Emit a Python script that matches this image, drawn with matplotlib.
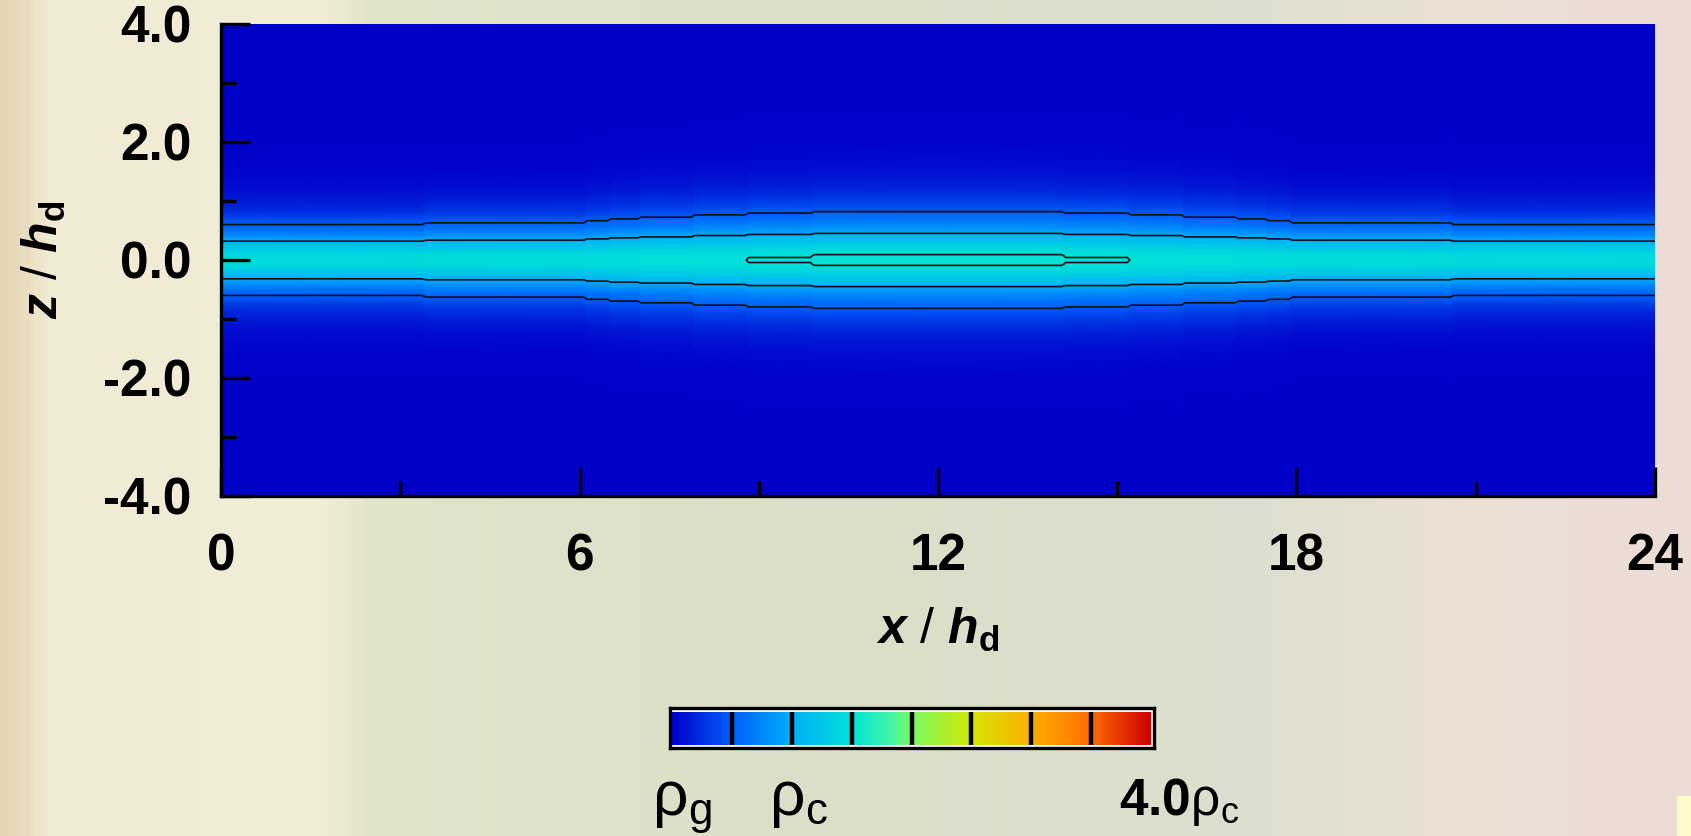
import numpy as np
import matplotlib
matplotlib.use("Agg")
import matplotlib.pyplot as plt
from matplotlib.colors import LinearSegmentedColormap, Normalize
from matplotlib.patches import Rectangle

plt.rcParams['font.family'] = 'Liberation Sans'
plt.rcParams['font.weight'] = 'bold'
plt.rcParams['axes.unicode_minus'] = False
plt.rcParams['mathtext.fontset'] = 'custom'
plt.rcParams['mathtext.it'] = 'Liberation Sans:italic:bold'
plt.rcParams['mathtext.rm'] = 'Liberation Sans:bold'
plt.rcParams['mathtext.sf'] = 'Liberation Sans:weight=normal'

# x segments (in h_d) over which the vertical profile stays the same
seg_edges = [0, 3.4, 6.1, 6.5, 7.0, 7.9, 8.8, 9.9, 14.1, 15.2, 16.1, 17.0, 17.5, 17.9, 20.6, 24]
seg_thick = [1.0, 1.044, 1.10, 1.145, 1.19, 1.25, 1.29, 1.32, 1.29, 1.25, 1.19, 1.145, 1.10, 1.044, 1.0]
seg_mid = [1.45, 1.46, 1.47, 1.48, 1.485, 1.495, 1.51, 1.53, 1.51, 1.495, 1.485, 1.48, 1.47, 1.46, 1.45]

# normalised vertical density profile (upper half, mirrored below)
zeta = [0, 0.05, 0.1, 0.2, 0.3, 0.4, 0.5, 0.6, 0.7, 0.8, 0.9, 1.0, 1.2, 1.5, 2.0, 4.0]
prof = [1.0, 0.99, 0.965, 0.86, 0.72, 0.56, 0.44, 0.345, 0.26, 0.19, 0.14, 0.10, 0.05, 0.02, 0.005, 0.0]

levels = [0.5, 1.0, 1.5]
cbar_ticks = [0.5, 1.0, 1.5, 2.0, 2.5, 3.0, 3.5]
xticks = [0, 6, 12, 18, 24]
xminor = [3, 9, 15, 21]
yticks = [-4, -2, 0, 2, 4]
yminor = [-3, -1, 1, 3]
ytick_labels = ['-4.0', '-2.0', '0.0', '2.0', '4.0']

# jet-like colour scale
cmap_pos = [0.0, 0.125, 0.25, 0.375, 0.45, 0.5, 0.625, 0.75, 0.875, 1.0]
cmap_col = ['#0000c8', '#005ffa', '#00affa', '#00e1d7', '#3cf5aa', '#78fa64',
            '#d2e600', '#ffaf00', '#ff6e00', '#cd0000']
cmap = LinearSegmentedColormap.from_list('rho', list(zip(cmap_pos, cmap_col)))
norm = Normalize(0, 4.0)

# grid (each segment gets a column at both ends -> stepped contours)
zeta_full = np.concatenate([-np.array(zeta[:0:-1]), zeta])
prof_full = np.concatenate([prof[:0:-1], prof])
eps = 0.03
cols_x, cols_h, cols_m = [], [], []
n = len(seg_mid)
for k in range(n):
    a, b = seg_edges[k], seg_edges[k + 1]
    cols_x += [a + (eps if k > 0 else 0), b - (eps if k < n - 1 else 0)]
    cols_h += [seg_thick[k]] * 2
    cols_m += [seg_mid[k]] * 2
X = np.tile(cols_x, (len(zeta_full), 1))
Z = np.outer(zeta_full, cols_h)
V = np.outer(prof_full, cols_m)

fig = plt.figure(figsize=(16.91, 8.36), dpi=100)

# background wash
bg = fig.add_axes([0, 0, 1, 1], zorder=-10)
bg_pos = [0.0, 0.016, 0.03, 0.19, 0.215, 0.5, 0.75, 0.86, 1.0]
bg_col = ['#e4d4b4', '#ece2c6', '#f1ebd6', '#f1edd6', '#e2e4cc', '#dbdec8', '#dedfd0', '#ebe0d4', '#ecdcd6']
bg_cmap = LinearSegmentedColormap.from_list('bg', list(zip(bg_pos, bg_col)))
bg.imshow(np.linspace(0, 1, 400)[None, :], cmap=bg_cmap, aspect='auto', extent=[0, 1, 0, 1])
bg.add_patch(Rectangle((0.9917, 0), 0.0083, 0.048, color='#fffbc8'))
bg.set_xlim(0, 1)
bg.set_ylim(0, 1)
bg.axis('off')

ax = fig.add_axes([0.1307, 0.4067, 0.848, 0.5646])
pcm = ax.pcolormesh(X, Z, V, cmap=cmap, norm=norm, shading='gouraud')
ax.contour(X, Z, V, levels=levels, colors='#0a1018', linewidths=1.2)
ax.set_xlim(0, 24)
ax.set_ylim(-4, 4)

for s in ['top', 'right']:
    ax.spines[s].set_visible(False)
for s in ['left', 'bottom']:
    ax.spines[s].set_linewidth(2.4)

ax.set_xticks(xticks)
ax.set_xticks(xminor, minor=True)
ax.set_yticks(yticks)
ax.set_yticks(yminor, minor=True)
ax.set_yticklabels(ytick_labels)
ax.tick_params(which='major', direction='in', length=21, width=2.4, labelsize=37)
ax.tick_params(which='minor', direction='in', length=11, width=2.4)
ax.tick_params(axis='y', which='major', pad=21)
ax.tick_params(axis='x', which='major', pad=26)

ax.set_xlabel(r'$x$ / $h_{\mathrm{d}}$', fontsize=36)
ax.xaxis.set_label_coords(0.5, -0.233)
ax.set_ylabel(r'$z$ / $h_{\mathrm{d}}$', fontsize=36)
ax.yaxis.set_label_coords(-0.107, 0.5)

# colour bar with double frame
frame = fig.add_axes([669.5 / 1691, 1 - 748 / 836, 484 / 1691, 40 / 836])
frame.set_xticks([])
frame.set_yticks([])
frame.set_facecolor('white')
for s in frame.spines.values():
    s.set_linewidth(2.4)

cax = fig.add_axes([672 / 1691, 1 - 745 / 836, 479 / 1691, 33 / 836])
cb = fig.colorbar(pcm, cax=cax, orientation='horizontal')
cb.outline.set_visible(False)
cax.set_xticks([])
for t in cbar_ticks:
    cax.axvline(t, color='black', lw=3.2)

base_y = 21 / 836
fig.text(682 / 1691, base_y, r'$\mathsf{\rho_g}$', ha='center', va='baseline', fontsize=45)
fig.text(798 / 1691, base_y, r'$\mathsf{\rho_c}$', ha='center', va='baseline', fontsize=45)
fig.text(1179 / 1691, base_y, r'$\mathrm{4.0}$' + r'$\mathsf{\rho_c}$',
         ha='center', va='baseline', fontsize=37)

fig.savefig('out.png', dpi=100)
